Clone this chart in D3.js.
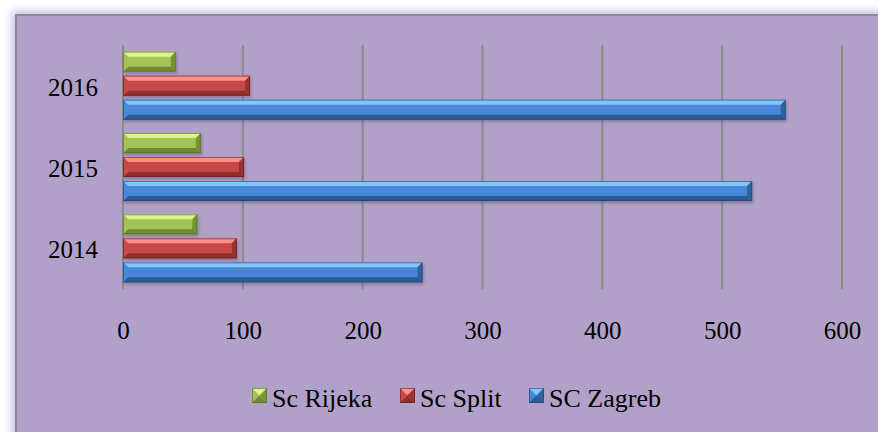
<!DOCTYPE html>
<html>
<head>
<meta charset="utf-8">
<script src="https://cdn.jsdelivr.net/npm/d3@7"></script>
<style>
  body { margin: 0; background: #ffffff; }
  svg { display: block; }
  text { font-family: "Liberation Serif", "DejaVu Serif", serif; fill: #000; }
</style>
</head>
<body>
<svg class="chart"></svg>
<script>
var years = ["2016", "2015", "2014"];
var seriesNames = ["Sc Rijeka", "Sc Split", "SC Zagreb"];
// values per year, same order as years
var rijeka = [44, 65, 62];
var split = [106, 101, 95];
var zagreb = [553, 525, 250];
var xTicks = [0, 100, 200, 300, 400, 500, 600];

var seriesValues = [rijeka, split, zagreb];

var palettes = {
    "Sc Rijeka": {light: "#dcf48a", mid: "#a3c25a", dark: "#6f8c2e", edge: "#4f6620"},
    "Sc Split": {light: "#ff8f8c", mid: "#c74a47", dark: "#8e302e", edge: "#5e1e1d"},
    "SC Zagreb": {light: "#86c4ff", mid: "#4689d6", dark: "#2d5a93", edge: "#1f3f68"}
};

var width = 878, height = 432;
var plot = {left: 123, right: 842, top: 45, bottom: 289};
var serif = "'Liberation Serif', 'DejaVu Serif', serif";

var svg = d3.select(".chart")
        .attr("width", width)
        .attr("height", height);
var defs = svg.append("defs");

// soft purple glow round the chart area
var glow = defs.append("filter").attr("id", "glow")
        .attr("x", "-5%").attr("y", "-5%").attr("width", "110%").attr("height", "110%");
glow.append("feGaussianBlur").attr("stdDeviation", 4);

var shadow = defs.append("filter").attr("id", "shadow")
        .attr("x", "-5%").attr("y", "-30%").attr("width", "110%").attr("height", "170%");
shadow.append("feDropShadow")
        .attr("dx", 1).attr("dy", 2).attr("stdDeviation", 1.5)
        .attr("flood-color", "#3a2a4a").attr("flood-opacity", 0.35);

svg.append("rect")
        .attr("x", 12).attr("y", 11)
        .attr("width", 900).attr("height", 460)
        .attr("fill", "#cdb9e6")
        .attr("filter", "url(#glow)");
svg.append("rect")
        .attr("x", 16).attr("y", 15)
        .attr("width", 900).attr("height", 460)
        .attr("fill", "#b1a0c7")
        .attr("stroke", "#8c8c8c")
        .attr("stroke-width", 2);

var x = d3.scaleLinear()
        .domain([0, 600])
        .range([plot.left, plot.right]);

var y = d3.scaleBand()
        .domain(years)
        .range([plot.top, plot.bottom]);

var ySeries = d3.scaleBand()
        .domain(seriesNames)
        .range([0, y.bandwidth()])
        .paddingInner(0.167)
        .paddingOuter(0.277);

// gridlines
svg.append("g")
        .selectAll("line")
        .data(xTicks)
        .enter().append("line")
        .attr("x1", function (d) { return x(d); })
        .attr("x2", function (d) { return x(d); })
        .attr("y1", plot.top)
        .attr("y2", plot.bottom)
        .attr("stroke", "#8a8a8a")
        .attr("stroke-width", 2);

// x tick labels
var xAxis = svg.append("g")
        .attr("transform", "translate(0," + (plot.bottom + 29) + ")")
        .attr("font-family", serif)
        .call(d3.axisBottom(x).tickValues(xTicks).tickSize(0).tickPadding(0));
xAxis.select(".domain").remove();
xAxis.selectAll("text")
        .attr("y", 0)
        .attr("dy", "0.85em")
        .style("font-size", "25px")
        .style("font-family", serif);

// y labels
var yAxis = svg.append("g")
        .attr("transform", "translate(" + (plot.left - 25) + ",0)")
        .attr("font-family", serif)
        .call(d3.axisLeft(y).tickSize(0).tickPadding(0));
yAxis.select(".domain").remove();
yAxis.selectAll("text")
        .attr("dy", "0.4em")
        .style("font-size", "25px")
        .style("font-family", serif);

function drawBevelBar(g, x0, x1, y0, h, pal) {
    var y1 = y0 + h;
    var b = Math.min(5, (x1 - x0) / 2);
    g.append("rect")
            .attr("x", x0).attr("y", y0)
            .attr("width", x1 - x0).attr("height", h)
            .attr("fill", pal.mid)
            .attr("filter", "url(#shadow)");
    // top face
    g.append("polygon")
            .attr("points", [[x0, y0], [x1, y0], [x1 - b, y0 + b], [x0 + b, y0 + b]].join(" "))
            .attr("fill", pal.light);
    // bottom face
    g.append("polygon")
            .attr("points", [[x0, y1], [x1, y1], [x1 - b, y1 - b], [x0 + b, y1 - b]].join(" "))
            .attr("fill", pal.dark);
    // right face
    g.append("polygon")
            .attr("points", [[x1, y0], [x1, y1], [x1 - b, y1 - b], [x1 - b, y0 + b]].join(" "))
            .attr("fill", pal.dark)
            .attr("opacity", 0.85);
    // left face
    g.append("polygon")
            .attr("points", [[x0, y0], [x0, y1], [x0 + b, y1 - b], [x0 + b, y0 + b]].join(" "))
            .attr("fill", pal.mid);
    g.append("rect")
            .attr("x", x0 + 0.5).attr("y", y0 + 0.5)
            .attr("width", x1 - x0 - 1).attr("height", h - 1)
            .attr("fill", "none")
            .attr("stroke", pal.edge)
            .attr("stroke-opacity", 0.6)
            .attr("stroke-width", 1);
}

var bars = svg.append("g");
seriesNames.forEach(function (name, si) {
    seriesValues[si].forEach(function (v, yi) {
        var g = bars.append("g");
        drawBevelBar(g, x(0), x(v),
                y(years[yi]) + ySeries(name), ySeries.bandwidth(), palettes[name]);
    });
});

// legend
var legendX = [252, 400, 529];
var legend = svg.append("g");
seriesNames.forEach(function (name, i) {
    var pal = palettes[name];
    var lx = legendX[i], ly = 388, s = 15, c = s / 2;
    var item = legend.append("g");
    item.append("rect").attr("x", lx).attr("y", ly).attr("width", s).attr("height", s).attr("fill", pal.mid);
    item.append("polygon").attr("points", [[lx, ly], [lx + s, ly], [lx + c, ly + c]].join(" ")).attr("fill", pal.light);
    item.append("polygon").attr("points", [[lx, ly + s], [lx + s, ly + s], [lx + c, ly + c]].join(" ")).attr("fill", pal.dark);
    item.append("polygon").attr("points", [[lx + s, ly], [lx + s, ly + s], [lx + c, ly + c]].join(" ")).attr("fill", pal.dark).attr("opacity", 0.8);
    item.append("rect").attr("x", lx + 0.5).attr("y", ly + 0.5).attr("width", s - 1).attr("height", s - 1)
            .attr("fill", "none").attr("stroke", pal.edge).attr("stroke-opacity", 0.6);
    item.append("text")
            .attr("x", lx + 20)
            .attr("y", 407)
            .style("font-size", "26px")
            .style("font-family", serif)
            .text(name);
});
</script>
</body>
</html>
